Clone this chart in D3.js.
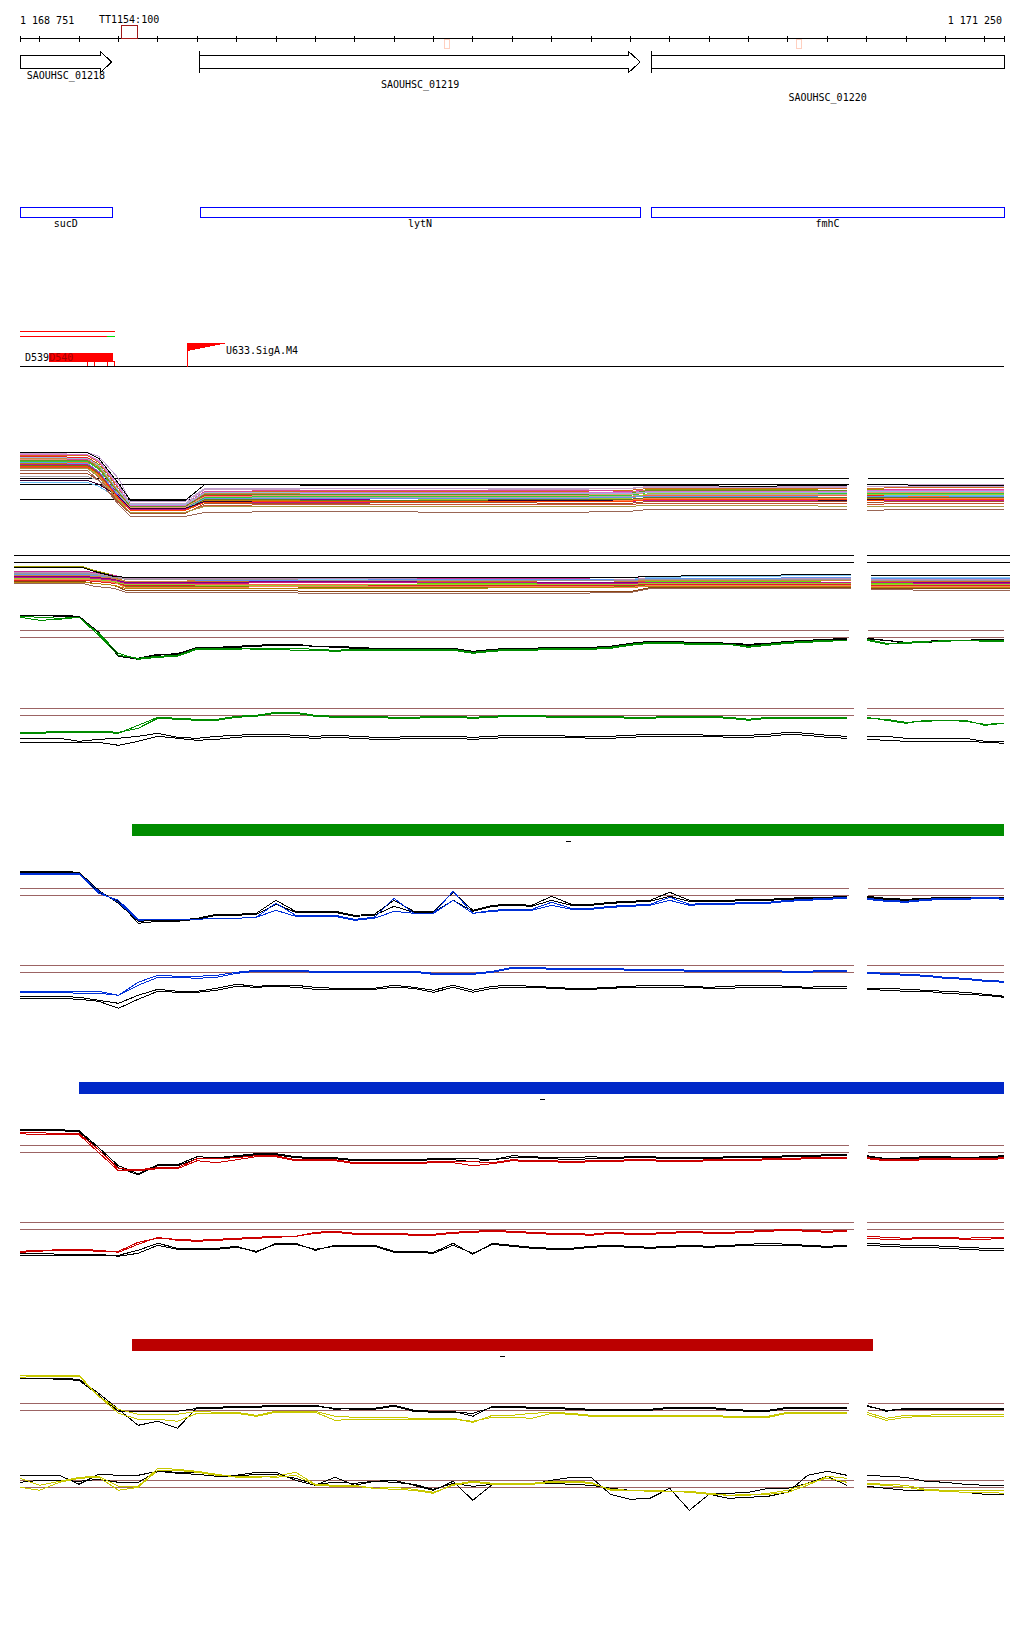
<!DOCTYPE html>
<html><head><meta charset="utf-8">
<script src="https://cdn.jsdelivr.net/npm/d3@7"></script>
<style>
body{margin:0;background:#fff}
svg{display:block}
text{font-family:"DejaVu Sans Mono",monospace;font-size:10px}
</style></head><body>
<svg id="c" width="1024" height="1640"></svg>
<script>
// ================= DATA =================
const viewStart = 1168751, viewEnd = 1171250;
const tickValues = [1168751].concat(d3.range(1168800, 1171201, 100), [1171250]);

const geneIds    = ["SAOUHSC_01218", "SAOUHSC_01219", "SAOUHSC_01220"];
const geneNames  = ["sucD", "lytN", "fmhC"];
const geneStarts = [1168600, 1169208, 1170354];
const geneEnds   = [1168984, 1170326, 1171400];

const terminatorLabel = "TT1154:100";
const terminatorRange = [1169008, 1169050];
const paleMarks = [[1169829, 1169843], [1170722, 1170735]];

const transcriptRange = [1168600, 1168992];
const transcriptGreenStart = 1168972;
const operonLabels = ["D539", "D540"];
const operonBox = [1168825, 1168987];
const operonSmallBoxes = [[1168922, 1168941], [1168972, 1168992]];
const promoterLabel = "U633.SigA.M4";
const promoterPos = 1169175, promoterEnd = 1169279;

const barColors = ["#008c00", "#0028c8", "#bb0000"];
const barStarts = [1169035, 1168901, 1169035];
const barEnds   = [1171250, 1171250, 1170917];

// probe offsets (bp from view start), two segments separated by a gap
const probes1 = [0,50,100,150,200,250,300,350,400,450,500,550,600,650,700,750,800,850,900,950,1000,1050,1100,1150,1200,1250,1300,1350,1400,1450,1500,1550,1600,1650,1700,1750,1800,1850,1900,1950,2000,2050,2100];
const probes2 = [2150,2200,2250,2300,2350,2400,2450,2500];

// multi-condition profile knots
const multiKnots1 = [0,170,200,250,280,420,470,500,800,1100,1400,1550,1600,1850,2100];
const multiKnots2 = [2150,2300,2500];

const multiAColors = ["#000000","#c0a0d0","#c8a2c8","#d2691e","#999900","#66ee00","#dd4499","#880088","#66bbee","#ff6347","#ee2222","#b8860b","#aaaaaa","#ff7f50","#9acd32","#a0522d","#996655","#cc5533","#6495ed","#c71585","#cd853f","#33cc33","#da70d6","#667722","#e9967a","#330033","#ff4500","#6b8e23","#99bbdd","#aa9944"];
const multiAValues = [
[76,76,70,45,28,28,44,44,43,43,43,43,43,42,43,44,43,43],
[76,76,72,50,27,27,40,40,40,40,40,40,41,41,41,42,42,42],
[75,74,68,44,25,25,39,39,38,38,39,40,42,42,42,44,44,44],
[73,73,66,40,24,24,36,36,37,37,37,38,40,40,40,40,41,41],
[71,71,64,38,23,23,34,34,35,35,35,36,39,39,38,39,38,38],
[70,70,62,36,22,22,33,33,33,34,34,34,37,37,37,36,36,37],
[69,69,61,36,24,24,37,37,38,38,38,37,38,38,38,38,39,39],
[68,68,60,34,20,20,29,29,29,30,29,29,30,30,30,31,30,31],
[46,46,42,30,21,21,32,32,31,31,31,32,33,33,34,33,33,33],
[66,66,56,32,19,19,30,30,31,30,30,31,33,33,33,32,32,32],
[72,71,63,38,22,22,33,33,32,32,32,32,34,34,34,33,34,34],
[65,65,55,31,18,18,28,28,27,27,28,28,30,30,29,30,29,30],
[52,52,48,30,20,20,31,31,31,31,31,32,34,34,34,35,34,35],
[63,63,53,29,18,18,27,27,27,28,27,28,30,30,30,29,30,30],
[62,62,52,28,19,19,30,30,30,29,29,30,35,35,35,34,34,34],
[55,55,48,26,15,15,25,25,25,26,25,25,27,27,27,26,27,27],
[58,58,48,24,12,12,16,16,17,16,16,17,19,19,19,18,19,19],
[61,61,51,27,16,16,23,23,24,24,24,24,25,25,25,24,25,25],
[66,65,57,33,20,20,30,30,30,30,30,31,32,32,31,32,31,32],
[64,64,56,31,19,19,26,26,26,27,27,27,28,28,28,28,28,28],
[70,70,61,37,22,22,35,35,35,35,36,36,38,38,38,37,38,38],
[67,67,59,35,21,21,31,31,32,32,32,33,36,36,35,35,35,35],
[74,74,67,42,23,23,36,36,36,36,36,36,37,37,37,38,38,38],
[63,63,55,30,18,18,29,29,28,28,29,29,31,31,31,31,31,31],
[69,68,60,35,21,21,32,32,33,33,33,34,36,36,36,36,36,36],
[48,48,44,32,20,20,27,27,27,27,28,27,29,29,28,29,29,29],
[62,62,54,30,18,18,26,26,27,27,27,27,29,29,29,28,29,29],
[68,68,60,36,22,22,34,34,34,34,34,35,38,38,38,37,37,37],
[71,70,63,38,24,24,36,36,35,35,35,35,36,36,36,37,37,37],
[60,60,52,28,16,16,22,22,22,22,22,22,23,23,22,22,22,22]
];

const multiBColors = ["#000000","#999900","#cc3399","#87cefa","#d2691e","#66dd00","#800080","#ff6347","#8b4513","#996655","#bc8fbc","#808000","#cd853f","#dd2222","#c71585","#9acd32","#6495ed","#b8860b","#ff7f50","#999999"];
const multiBValues = [
[38,38,34,29,28,28,28,28,28,28,28,28,29,30,31,30,30,30],
[39,39,35,30,27,27,27,27,26,26,26,26,27,27,27,26,26,26],
[34,34,33,30,27,27,27,27,27,27,27,28,26,26,27,27,27,27],
[32,32,31,28,26,26,26,26,26,26,26,26,28,29,30,28,28,28],
[31,31,30,28,24,24,24,24,24,24,23,23,25,25,25,24,24,24],
[28,28,27,25,21,21,22,22,23,22,22,22,24,24,23,22,22,22],
[29,29,28,26,23,23,23,23,24,23,23,23,23,23,23,23,23,23],
[26,26,25,23,20,20,21,21,21,21,21,21,22,22,22,21,21,21],
[24,24,22,20,15,15,15,15,14,14,14,14,18,18,18,17,17,17],
[22,22,19,17,13,13,13,13,12,12,12,13,17,17,17,16,15,15],
[33,33,32,29,27,27,27,27,27,26,26,26,27,27,27,26,26,26],
[27,27,26,24,19,19,19,19,18,18,19,19,20,20,20,19,19,19],
[30,30,29,27,24,24,25,25,25,25,25,24,25,25,25,25,25,25],
[25,25,24,22,20,20,20,20,20,20,20,20,21,21,21,20,20,20],
[28,28,27,25,22,22,22,22,23,23,22,22,23,23,23,23,22,22],
[27,27,26,24,21,21,20,20,20,21,21,21,22,22,22,21,21,21],
[31,31,30,28,26,26,25,25,25,26,26,25,27,27,28,27,27,27],
[23,23,22,20,17,17,17,17,17,17,18,18,19,19,19,18,18,18],
[26,26,25,23,18,18,18,18,19,19,19,18,20,20,20,19,19,19],
[32,32,31,28,26,26,26,26,25,25,25,25,26,26,26,25,25,25]
];

// two-condition profiles (43 values for segment 1, then 8 for segment 2)
const greenUpBlack1 = [65,65,65,64,48,25,22,26,26,33,33,34,35,36,36,34,34,33,32,32,32,32,32,29,31,32,32,33,33,33,34,37,39,39,38,38,37,36,37,39,40,41,42, 42,40,38,39,40,40,41,41];
const greenUpBlack2 = [64,65,64,63,47,24,21,25,27,32,33,33,34,35,35,34,33,32,32,31,31,31,31,28,30,31,31,32,32,32,33,36,38,38,37,37,36,35,36,38,39,40,41, 41,40,37,38,39,40,40,41];
const greenUpColor1 = [63,60,61,63,45,25,22,24,25,32,32,32,31,31,30,30,29,30,30,30,30,30,30,27,29,30,30,31,31,31,32,35,37,37,36,36,36,33,35,37,38,39,40, 40,36,38,39,39,40,39,39];
const greenUpColor2 = [64,63,62,63,47,27,21,23,24,31,31,31,32,32,32,31,30,31,31,31,31,31,31,28,30,31,31,32,32,32,33,36,38,38,37,37,36,34,36,38,39,40,40, 41,37,37,38,40,40,40,40];

const greenLoBlack1 = [20,20,20,17,19,20,22,25,21,20,22,23,24,24,23,22,23,22,21,21,22,22,22,21,22,23,23,23,22,22,22,23,24,24,24,23,23,23,24,26,25,23,22, 22,22,20,20,20,20,17,17];
const greenLoBlack2 = [16,16,16,16,16,13,17,22,20,18,19,21,22,22,21,20,21,20,19,19,20,20,20,19,20,21,21,21,21,20,20,21,22,22,22,22,21,21,22,24,23,21,20, 19,18,17,17,17,17,16,15];
const greenLoColor1 = [25,25,26,26,26,25,33,41,40,39,39,42,43,46,46,43,42,42,42,41,41,42,42,41,42,43,43,42,42,42,42,41,41,42,42,42,41,39,41,41,41,41,41, 41,38,35,38,38,38,33,35];
const greenLoColor2 = [26,26,27,27,27,26,30,40,39,38,38,41,42,45,45,42,41,41,41,40,40,41,41,40,41,42,42,41,41,41,41,40,40,41,41,41,40,38,40,40,40,40,40, 40,39,36,37,38,37,34,35];

const blueUpBlack1 = [67,67,67,66,48,35,17,18,18,20,24,24,25,38,27,27,27,23,24,38,27,27,46,28,33,34,33,42,34,34,36,37,38,46,38,38,38,39,39,40,41,41,42, 42,40,39,40,41,41,41,41];
const blueUpBlack2 = [66,66,66,65,46,37,15,17,17,19,23,23,24,34,26,26,26,22,23,32,26,26,38,27,32,33,32,38,33,33,35,36,37,42,37,37,37,38,38,39,40,40,41, 41,39,38,39,40,40,40,40];
const blueUpColor1 = [65,65,65,65,47,36,18,19,19,19,20,20,21,35,23,23,23,19,21,40,25,25,47,25,28,29,29,36,30,30,32,33,34,41,34,35,35,36,36,38,39,40,41, 40,38,37,39,40,40,41,40];
const blueUpColor2 = [64,64,64,64,45,38,19,19,19,19,20,20,21,28,22,22,22,18,20,27,25,25,38,25,27,28,28,33,29,29,31,32,33,38,33,34,34,35,35,37,38,39,40, 39,37,36,38,39,39,40,39];

const blueLoBlack1 = [19,19,19,18,15,12,20,26,24,24,27,31,29,30,30,28,27,27,27,30,28,25,30,25,29,30,29,28,27,27,28,29,30,30,29,28,29,30,30,29,28,29,29, 27,27,26,25,24,23,21,19];
const blueLoBlack2 = [17,17,17,16,14,7,16,24,23,23,25,29,28,29,28,26,26,26,26,28,27,23,28,23,27,28,28,27,26,26,27,28,28,28,28,27,27,28,28,28,27,27,27, 26,25,24,24,22,21,20,18];
const blueLoColor1 = [24,24,24,24,24,20,33,40,39,39,40,43,45,45,45,44,44,44,44,44,44,42,42,42,44,48,48,47,47,47,47,46,46,46,45,45,45,45,45,44,44,45,45, 43,42,41,40,38,37,35,34];
const blueLoColor2 = [23,23,23,22,22,20,30,38,38,37,38,42,44,44,44,43,43,43,43,43,43,41,41,41,43,47,47,46,46,46,46,45,45,45,44,44,44,44,44,43,43,44,44, 42,41,40,39,37,36,34,33];

const redUpBlack1 = [66,66,66,65,48,30,22,31,31,39,38,40,42,42,39,38,38,36,36,36,36,37,37,37,36,40,39,38,38,39,38,39,39,38,38,38,39,39,39,40,40,41,41, 40,37,38,39,39,38,39,40];
const redUpBlack2 = [65,65,65,64,46,28,21,30,30,37,37,39,41,41,38,37,37,35,35,35,35,36,36,34,36,38,38,37,36,37,37,38,38,37,37,37,38,38,38,39,39,40,40, 39,36,37,38,38,37,38,39];
const redUpColor1 = [63,63,62,62,46,27,26,28,28,37,37,38,40,40,36,36,36,33,33,33,33,34,34,34,33,36,35,35,34,35,35,36,36,35,35,36,36,36,37,37,38,38,38, 38,36,36,37,37,37,37,38];
const redUpColor2 = [62,61,61,61,43,25,25,27,27,35,33,36,39,39,35,35,35,32,32,32,32,33,33,30,32,35,34,34,33,34,34,35,35,34,34,35,35,35,36,36,37,37,37, 37,35,35,36,36,36,36,37];

const redLoBlack1 = [17,17,17,17,17,17,22,29,24,24,24,26,20,29,29,22,27,27,27,21,21,20,29,18,29,27,25,24,24,26,27,26,25,26,27,26,27,28,29,28,27,26,27, 29,28,27,27,26,25,24,24];
const redLoBlack2 = [19,19,18,18,18,16,19,27,23,23,23,25,21,28,28,23,26,26,26,20,20,19,27,19,28,26,24,23,23,25,26,25,24,25,26,25,26,27,27,27,26,25,26, 27,26,25,25,24,23,22,22];
const redLoColor1 = [21,22,22,22,21,21,30,34,33,32,33,34,35,36,36,40,41,39,39,39,38,38,40,41,42,41,40,39,39,38,40,39,39,40,41,40,40,41,42,43,42,41,42, 36,35,34,35,35,34,35,35];
const redLoColor2 = [20,21,23,23,22,20,28,35,32,31,32,33,34,35,36,39,40,38,38,38,37,37,39,40,41,40,39,38,38,37,39,38,38,39,40,39,39,40,41,42,41,40,41, 34,33,33,34,34,33,33,34];

const yellowUpBlack1 = [75,75,75,74,60,44,28,32,25,46,46,47,47,48,48,48,44,45,45,48,43,42,42,37,47,47,46,46,45,44,44,44,44,46,46,46,44,43,43,46,46,46,46, 48,42,45,45,45,45,45,45];
const yellowUpBlack2 = [75,75,74,73,58,42,42,42,42,45,45,46,46,47,47,47,45,44,44,47,42,41,41,40,46,46,45,45,44,43,43,43,43,45,45,45,43,42,42,45,45,45,45, 47,43,44,44,44,44,44,44];
const yellowUpColor1 = [78,78,78,78,57,44,39,39,39,42,41,41,38,42,42,42,37,36,36,36,35,35,35,31,38,38,40,41,40,38,38,38,38,38,38,38,37,37,37,41,41,41,41, 41,35,38,38,39,39,39,39];
const yellowUpColor2 = [76,77,77,77,57,40,34,34,32,40,40,40,37,41,41,41,33,34,34,34,34,34,34,32,36,36,35,40,39,37,37,37,37,37,37,37,36,36,36,40,40,40,40, 39,33,36,37,37,37,37,37];

const yellowLoBlack1 = [55,55,55,46,56,55,55,59,58,58,55,55,58,58,50,45,53,45,49,50,45,40,49,30,46,46,46,50,53,53,36,31,32,42,20,36,32,33,34,38,55,59,55, 55,54,53,49,48,46,45,45];
const yellowLoBlack2 = [48,50,50,49,51,48,48,59,57,56,54,54,56,56,52,46,48,47,49,48,46,41,47,44,46,47,47,47,46,45,42,40,40,39,39,37,37,38,42,42,47,54,45, 44,42,40,40,39,38,36,36];
const yellowLoColor1 = [52,45,49,53,54,44,44,62,61,59,56,53,53,54,58,46,45,45,42,41,40,37,46,49,47,47,47,49,49,48,40,40,40,39,39,37,35,36,36,38,45,54,52, 47,46,45,41,40,40,40,40];
const yellowLoColor2 = [43,40,48,52,53,40,43,60,60,58,55,54,54,53,55,45,44,44,42,43,41,38,45,48,46,46,46,48,48,47,41,40,39,39,38,36,35,35,37,40,47,52,48, 46,45,43,40,39,38,38,37];

const refLevels = [50, 43];

// ================= DRAW =================
const svg = d3.select("#c").attr("shape-rendering", "crispEdges");
const x = d3.scaleLinear().domain([viewStart, viewEnd]).range([20, 1004]);
const xWide = d3.scaleLinear().domain([viewStart, viewEnd]).range([14, 1010]);
const fmt = v => d3.format(",")(v).replace(/,/g, " ");

// axis
svg.append("line").attr("x1", x(viewStart)).attr("x2", x(viewEnd)).attr("y1", 38.5).attr("y2", 38.5).attr("stroke", "#000");
svg.selectAll(".tick").data(tickValues).join("line")
  .attr("x1", d => Math.round(x(d)) + 0.5).attr("x2", d => Math.round(x(d)) + 0.5)
  .attr("y1", 35.5).attr("y2", 41.5).attr("stroke", "#000");
svg.append("text").attr("x", x(viewStart)).attr("y", 23.5).text(fmt(viewStart));
svg.append("text").attr("x", x(viewEnd) - 2).attr("y", 23.5).attr("text-anchor", "end").text(fmt(viewEnd));

// terminator
svg.append("rect").attr("x", x(terminatorRange[0])).attr("y", 25.5)
  .attr("width", x(terminatorRange[1]) - x(terminatorRange[0])).attr("height", 13)
  .attr("fill", "none").attr("stroke", "#a01818");
svg.append("text").attr("x", 99).attr("y", 23).text(terminatorLabel);
paleMarks.forEach(m => svg.append("rect").attr("x", x(m[0])).attr("y", 39.5)
  .attr("width", x(m[1]) - x(m[0])).attr("height", 8.5).attr("fill", "none").attr("stroke", "#ffd0c0"));

// genes
const geneLabelY = [79, 88, 101];
geneIds.forEach((id, i) => {
  const s = Math.max(geneStarts[i], viewStart), e = Math.min(geneEnds[i], viewEnd);
  const x0 = x(s), x1 = x(e);
  const top = 55.5, bot = 68.5, htop = 51.5, hbot = 72.5, mid = 62;
  let d;
  if (geneEnds[i] <= viewEnd) {
    const hx = x1 - 11.6;
    d = `M${x0},${top}H${hx}V${htop}L${x1},${mid}L${hx},${hbot}V${bot}H${x0}Z`;
  } else {
    d = `M${x0},${top}H${x1}V${bot}H${x0}Z`;
  }
  svg.append("path").attr("d", d).attr("fill", "#fff").attr("stroke", "#000");
  if (geneStarts[i] >= viewStart) {
    svg.append("line").attr("x1", x0).attr("x2", x0).attr("y1", 51).attr("y2", 72.5).attr("stroke", "#000");
  }
  svg.append("text").attr("x", (x0 + x1) / 2).attr("y", geneLabelY[i]).attr("text-anchor", "middle").text(id);
  // named gene boxes
  svg.append("rect").attr("x", x0 + 0.5).attr("y", 207.5).attr("width", x1 - x0).attr("height", 10)
    .attr("fill", "none").attr("stroke", "#0000ff").attr("stroke-width", 1.2);
  svg.append("text").attr("x", (x0 + x1) / 2).attr("y", 227).attr("text-anchor", "middle").text(geneNames[i]);
});

// transcripts / operon / promoter
const tx0 = x(Math.max(transcriptRange[0], viewStart)), tx1 = x(transcriptRange[1]);
svg.append("line").attr("x1", tx0).attr("x2", tx1).attr("y1", 331.5).attr("y2", 331.5).attr("stroke", "#ff0000");
svg.append("line").attr("x1", tx0).attr("x2", x(transcriptGreenStart)).attr("y1", 336.5).attr("y2", 336.5).attr("stroke", "#ff0000");
svg.append("line").attr("x1", x(transcriptGreenStart)).attr("x2", tx1).attr("y1", 336.5).attr("y2", 336.5).attr("stroke", "#00dd00");
svg.append("rect").attr("x", x(operonBox[0])).attr("y", 352.5).attr("width", x(operonBox[1]) - x(operonBox[0])).attr("height", 9).attr("fill", "#ff0000");
operonSmallBoxes.forEach(b => svg.append("rect").attr("x", x(b[0])).attr("y", 361.5)
  .attr("width", x(b[1]) - x(b[0])).attr("height", 5).attr("fill", "none").attr("stroke", "#ff0000"));
svg.append("text").attr("x", 25).attr("y", 361).text(operonLabels[0]);
svg.append("text").attr("x", x(operonBox[0])).attr("y", 361).attr("fill", "#a00000").text(operonLabels[1]);
svg.append("line").attr("x1", x(viewStart)).attr("x2", x(viewEnd)).attr("y1", 366.5).attr("y2", 366.5).attr("stroke", "#000");
const px0 = Math.round(x(promoterPos)) + 0.5;
svg.append("line").attr("x1", px0).attr("x2", px0).attr("y1", 343).attr("y2", 366.5).attr("stroke", "#ff0000");
svg.append("path").attr("d", `M${px0},343H${x(promoterEnd)}L${px0},351Z`).attr("fill", "#ff0000");
svg.append("text").attr("x", x(promoterEnd) - 2).attr("y", 354).text(promoterLabel);

// profile panels
function drawPanel(p) {
  const g = svg.append("g");
  const ys = d3.scaleLinear().domain([0, 100]).range([p.y7 + 50, p.y7 - 50]);
  p.refs.forEach(v => p.ranges.forEach(r => g.append("line")
    .attr("x1", r[0]).attr("x2", r[1]).attr("y1", ys(v)).attr("y2", ys(v)).attr("stroke", p.refColor)));
  (p.partialRefs || []).forEach(r => g.append("line")
    .attr("x1", p.xs(r[1])).attr("x2", p.xs(r[2])).attr("y1", ys(r[0])).attr("y2", ys(r[0])).attr("stroke", p.refColor));
  const line = d3.line().x(d => p.xs(viewStart + d[0])).y(d => ys(d[1]));
  p.series.forEach(s => {
    const n1 = p.knots1.length;
    const seg1 = p.knots1.map((k, i) => [k, s.values[i]]);
    const seg2 = p.knots2.map((k, i) => [k, s.values[n1 + i]]);
    [seg1, seg2].forEach(seg => g.append("path").attr("d", line(seg))
      .attr("fill", "none").attr("stroke", s.color).attr("stroke-width", 1));
  });
}

const upperRanges = [[20, 849], [868, 1004]];
const lowerRanges = [[20, 854], [867, 1004]];

drawPanel({ y7: 478.3, xs: x, knots1: multiKnots1, knots2: multiKnots2, refs: [50, 44], refColor: "#000",
  partialRefs: [[29, viewStart, 1169195]], ranges: upperRanges,
  series: multiAValues.map((v, i) => ({ values: v, color: multiAColors[i] })).slice(1).concat([{ values: multiAValues[0], color: multiAColors[0] }]) });
drawPanel({ y7: 555.3, xs: xWide, knots1: multiKnots1, knots2: multiKnots2, refs: [50, 43], refColor: "#000",
  ranges: [[14, 854], [867, 1010]],
  series: multiBValues.map((v, i) => ({ values: v, color: multiBColors[i] })).slice(1).concat([{ values: multiBValues[0], color: multiBColors[0] }]) });

const pairSpecs = [
  { up: 630.3, lo: 708.3, color: "#008c00", ub: [greenUpBlack1, greenUpBlack2], uc: [greenUpColor1, greenUpColor2], lb: [greenLoBlack1, greenLoBlack2], lc: [greenLoColor1, greenLoColor2] },
  { up: 888.3, lo: 965.3, color: "#0030d8", ub: [blueUpBlack1, blueUpBlack2], uc: [blueUpColor1, blueUpColor2], lb: [blueLoBlack1, blueLoBlack2], lc: [blueLoColor1, blueLoColor2] },
  { up: 1145.7, lo: 1222.3, color: "#cc0000", ub: [redUpBlack1, redUpBlack2], uc: [redUpColor1, redUpColor2], lb: [redLoBlack1, redLoBlack2], lc: [redLoColor1, redLoColor2] },
  { up: 1403.3, lo: 1480.3, color: "#c8c800", ub: [yellowUpBlack1, yellowUpBlack2], uc: [yellowUpColor1, yellowUpColor2], lb: [yellowLoBlack1, yellowLoBlack2], lc: [yellowLoColor1, yellowLoColor2] }
];
pairSpecs.forEach(ps => {
  drawPanel({ y7: ps.up, xs: x, knots1: probes1, knots2: probes2, refs: refLevels, refColor: "#9c6464", ranges: upperRanges,
    series: ps.ub.map(v => ({ values: v, color: "#000" })).concat(ps.uc.map(v => ({ values: v, color: ps.color }))) });
  drawPanel({ y7: ps.lo, xs: x, knots1: probes1, knots2: probes2, refs: refLevels, refColor: "#9c6464", ranges: lowerRanges,
    series: ps.lb.map(v => ({ values: v, color: "#000" })).concat(ps.lc.map(v => ({ values: v, color: ps.color }))) });
});

// condition bars
const barY = [824, 1082, 1339];
barColors.forEach((c, i) => {
  const b0 = x(barStarts[i]), b1 = x(barEnds[i]);
  svg.append("rect").attr("x", b0).attr("y", barY[i]).attr("width", b1 - b0).attr("height", 12).attr("fill", c);
  const cx = Math.round((b0 + b1) / 2);
  svg.append("line").attr("x1", cx - 2).attr("x2", cx + 3).attr("y1", barY[i] + 17.5).attr("y2", barY[i] + 17.5).attr("stroke", "#000");
});
</script>
</body></html>
